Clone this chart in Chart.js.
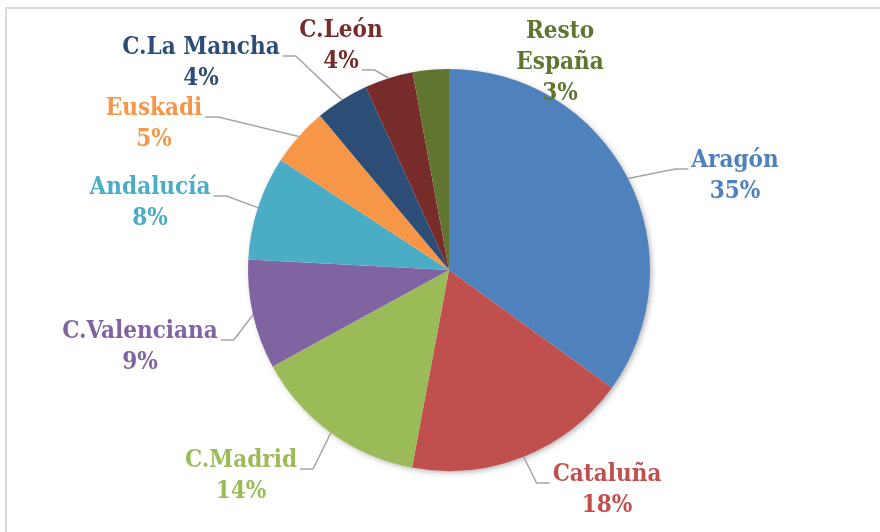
<!DOCTYPE html>
<html>
<head>
<meta charset="utf-8">
<script src="https://cdn.jsdelivr.net/npm/chart.js@4/dist/chart.umd.min.js"></script>
<style>
  html, body { margin: 0; padding: 0; background: #fff; }
  #contenedor { width: 880px; height: 532px; position: relative; }
</style>
</head>
<body>
<div id="contenedor"><canvas id="grafico"></canvas></div>
<script>
// datos
const regiones = ['Aragón', 'Cataluña', 'C.Madrid', 'C.Valenciana', 'Andalucía', 'Euskadi', 'C.La Mancha', 'C.León', ['Resto', 'España']];
const porcentajes = [35, 18, 14.1, 8.8, 8.4, 4.7, 4.3, 3.9, 2.9];
const colores = ['#4F81BD', '#C0504D', '#9BBB59', '#8064A2', '#4BACC6', '#F79646', '#2C4D75', '#772C2A', '#5F7530'];

// posicion de cada etiqueta respecto al centro de la tarta
const etiquetas = [
  { dx: 286, dy: -109, lado: 'izq' },
  { dx: 158, dy: 205, lado: 'izq' },
  { dx: -208, dy: 191, lado: 'der' },
  { dx: -309, dy: 62, lado: 'der' },
  { dx: -299, dy: -82, lado: 'der' },
  { dx: -295, dy: -161, lado: 'der' },
  { dx: -248, dy: -222, lado: 'der' },
  { dx: -108, dy: -239, lado: 'der', linea: 1 },
  { dx: 111, dy: -238, lado: null },
];

const FUENTE = "bold 24px 'DejaVu Serif Condensed', 'DejaVu Serif', serif";
const INTERLINEA = 31;

const marco = {
  id: 'marco',
  beforeDraw(chart) {
    const ctx = chart.ctx;
    ctx.save();
    ctx.fillStyle = '#fff';
    ctx.fillRect(0, 0, chart.width, chart.height);
    ctx.strokeStyle = '#d9d9d9';
    ctx.lineWidth = 2;
    ctx.beginPath();
    ctx.moveTo(6, chart.height);
    ctx.lineTo(6, 8);
    ctx.lineTo(chart.width, 8);
    ctx.stroke();
    ctx.restore();
  },
  beforeDatasetsDraw(chart) {
    // sombra suave debajo de la tarta
    const arc = chart.getDatasetMeta(0).data[0];
    if (!arc) return;
    const { x, y, outerRadius } = arc.getProps(['x', 'y', 'outerRadius'], true);
    const ctx = chart.ctx;
    ctx.save();
    ctx.shadowColor = 'rgba(0,0,0,0.35)';
    ctx.shadowBlur = 6;
    ctx.shadowOffsetX = 2;
    ctx.shadowOffsetY = 2;
    ctx.fillStyle = '#fff';
    ctx.beginPath();
    ctx.arc(x, y, outerRadius - 1, 0, Math.PI * 2);
    ctx.fill();
    ctx.restore();
  }
};

const etiquetasPlugin = {
  id: 'etiquetasTarta',
  afterDatasetsDraw(chart) {
    const ctx = chart.ctx;
    const datos = chart.data.datasets[0].data;
    const total = datos.reduce((a, b) => a + b, 0);
    chart.getDatasetMeta(0).data.forEach((arc, i) => {
      const { x, y, startAngle, endAngle, outerRadius } =
        arc.getProps(['x', 'y', 'startAngle', 'endAngle', 'outerRadius'], true);
      const medio = (startAngle + endAngle) / 2;
      const ex = x + Math.cos(medio) * outerRadius;
      const ey = y + Math.sin(medio) * outerRadius;
      const p = etiquetas[i];
      const nombre = chart.data.labels[i];
      const lineas = [...(Array.isArray(nombre) ? nombre : [nombre]), Math.round(datos[i] / total * 100) + '%'];

      ctx.save();
      ctx.font = FUENTE;
      ctx.fillStyle = colores[i];
      ctx.textAlign = 'center';
      ctx.textBaseline = 'middle';
      lineas.forEach((t, k) => ctx.fillText(t, x + p.dx, y + p.dy + k * INTERLINEA));

      if (p.lado) {
        const k = p.linea || 0;
        const w = ctx.measureText(lineas[k]).width;
        const ly = y + p.dy + k * INTERLINEA + 8;
        let x1, x2;
        if (p.lado === 'izq') {
          x1 = x + p.dx - w / 2 - 3;
          x2 = x1 - 13;
        } else {
          x1 = x + p.dx + w / 2 + 3;
          x2 = x1 + 13;
        }
        ctx.strokeStyle = '#a6a6a6';
        ctx.lineWidth = 1.5;
        ctx.beginPath();
        ctx.moveTo(x1, ly);
        ctx.lineTo(x2, ly);
        ctx.lineTo(ex, ey);
        ctx.stroke();
      }
      ctx.restore();
    });
  }
};

new Chart(document.getElementById('grafico'), {
  type: 'pie',
  data: {
    labels: regiones,
    datasets: [{
      data: porcentajes,
      backgroundColor: colores,
      borderWidth: 0,
    }]
  },
  options: {
    responsive: true,
    maintainAspectRatio: false,
    animation: false,
    layout: {
      padding: { left: 248, right: 230, top: 69, bottom: 61 }
    },
    plugins: {
      legend: { display: false },
      tooltip: { enabled: false }
    }
  },
  plugins: [marco, etiquetasPlugin]
});
</script>
</body>
</html>
